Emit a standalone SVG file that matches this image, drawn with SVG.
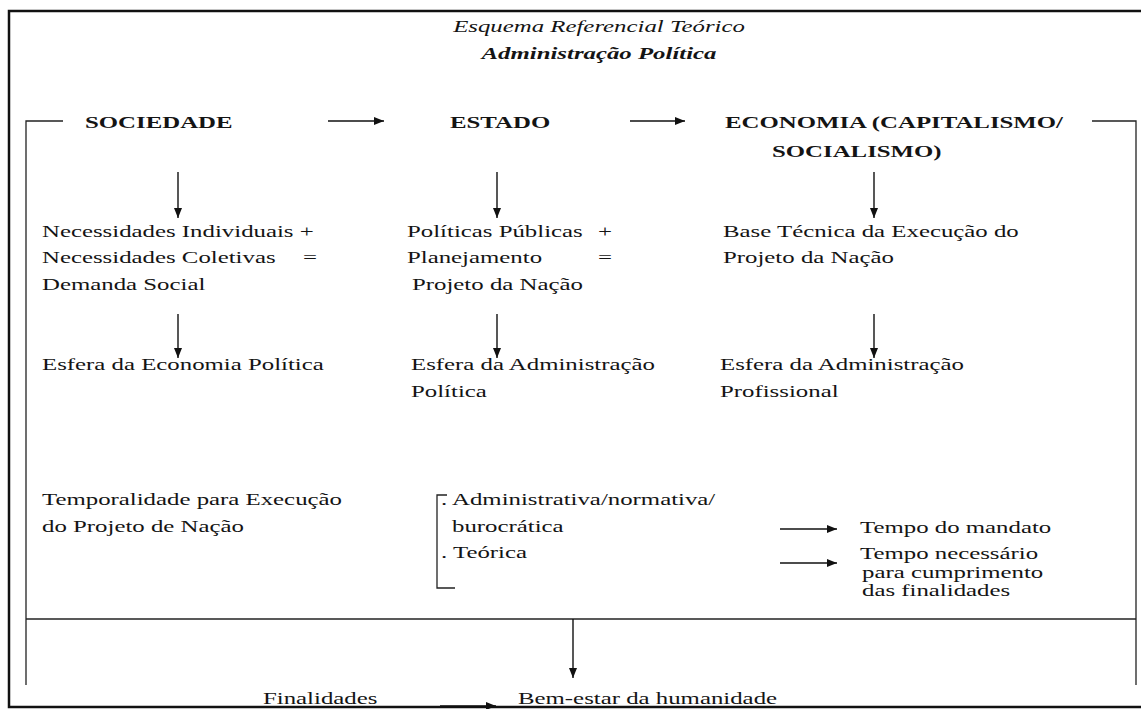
<svg xmlns="http://www.w3.org/2000/svg" width="1141" height="709" viewBox="0 0 1141 709">
<defs>
<style>
.t{font-family:"Liberation Serif","Times New Roman",serif;font-size:17px;fill:#141414}
.b{font-weight:bold}
.i{font-style:italic}
.m{text-anchor:middle}
.ln{fill:none;stroke:#222;stroke-width:1.3}
.fr{fill:none;stroke:#111;stroke-width:2.5}
.ar{fill:none;stroke:#111;stroke-width:1.4;marker-end:url(#ah)}
</style>
<marker id="ah" markerUnits="userSpaceOnUse" markerWidth="12" markerHeight="10" refX="10" refY="4" orient="auto">
<path d="M0,0 L10,4 L0,8 Z" fill="#111"/>
</marker>
</defs>
<rect width="1141" height="709" fill="#fff"/>

<g id="frame">
<path class="fr" d="M1145,11 H9 V707 H1145"/>
<path class="ln" d="M63,121 H26 V685"/>
<path class="ln" d="M1092,121 H1136 V685"/>
<path class="ln" d="M26,619 H1136"/>
<path class="ln" d="M447,495 H437 V588 H455"/>
</g>

<g id="title">
<text class="t i m" transform="translate(599 32) scale(1.46 1)">Esquema Referencial Teórico</text>
<text class="t b i m" transform="translate(599 59) scale(1.46 1)">Administração Política</text>
</g>

<g id="connectors">
<line class="ar" x1="328" y1="121" x2="384" y2="121"/>
<line class="ar" x1="630" y1="121" x2="685" y2="121"/>
<line class="ar" x1="178" y1="172" x2="178" y2="218"/>
<line class="ar" x1="497" y1="172" x2="497" y2="218"/>
<line class="ar" x1="874" y1="172" x2="874" y2="218"/>
<line class="ar" x1="178" y1="314" x2="178" y2="358"/>
<line class="ar" x1="497" y1="314" x2="497" y2="358"/>
<line class="ar" x1="874" y1="314" x2="874" y2="358"/>
<line class="ar" x1="780" y1="529" x2="837" y2="529"/>
<line class="ar" x1="780" y1="563" x2="837" y2="563"/>
<line class="ar" x1="573" y1="619" x2="573" y2="678"/>
<line class="ar" x1="440" y1="706" x2="496" y2="706"/>
</g>

<g id="sociedade">
<text class="t b" transform="translate(85 128) scale(1.46 1)">SOCIEDADE</text>
</g>
<g id="estado">
<text class="t b" transform="translate(450 128) scale(1.46 1)">ESTADO</text>
</g>
<g id="economia">
<text class="t b" transform="translate(725 128) scale(1.46 1)">ECONOMIA (CAPITALISMO/</text>
<text class="t b" transform="translate(772 157) scale(1.46 1)">SOCIALISMO)</text>
</g>

<g id="demanda-social">
<text class="t" transform="translate(42 237) scale(1.46 1)">Necessidades Individuais +</text>
<text class="t" transform="translate(42 263) scale(1.46 1)">Necessidades Coletivas</text>
<text class="t" transform="translate(303 263) scale(1.46 1)">=</text>
<text class="t" transform="translate(42 290) scale(1.46 1)">Demanda Social</text>
</g>
<g id="projeto-nacao">
<text class="t" transform="translate(407 237) scale(1.46 1)">Políticas Públicas</text>
<text class="t" transform="translate(598 237) scale(1.46 1)">+</text>
<text class="t" transform="translate(407 263) scale(1.46 1)">Planejamento</text>
<text class="t" transform="translate(598 263) scale(1.46 1)">=</text>
<text class="t" transform="translate(412 290) scale(1.46 1)">Projeto da Nação</text>
</g>
<g id="base-tecnica">
<text class="t" transform="translate(723 237) scale(1.46 1)">Base Técnica da Execução do</text>
<text class="t" transform="translate(723 263) scale(1.46 1)">Projeto da Nação</text>
</g>

<g id="esfera-economia">
<text class="t" transform="translate(42 370) scale(1.46 1)">Esfera da Economia Política</text>
</g>
<g id="esfera-adm-politica">
<text class="t" transform="translate(411 370) scale(1.46 1)">Esfera da Administração</text>
<text class="t" transform="translate(411 397) scale(1.46 1)">Política</text>
</g>
<g id="esfera-adm-profissional">
<text class="t" transform="translate(720 370) scale(1.46 1)">Esfera da Administração</text>
<text class="t" transform="translate(720 397) scale(1.46 1)">Profissional</text>
</g>

<g id="temporalidade">
<text class="t" transform="translate(42 505) scale(1.46 1)">Temporalidade para Execução</text>
<text class="t" transform="translate(42 532) scale(1.46 1)">do Projeto de Nação</text>
</g>
<g id="tipos">
<text class="t" transform="translate(441 505) scale(1.46 1)">. Administrativa/normativa/</text>
<text class="t" transform="translate(452 532) scale(1.46 1)">burocrática</text>
<text class="t" transform="translate(441 558) scale(1.46 1)">. Teórica</text>
</g>
<g id="tempo-mandato">
<text class="t" transform="translate(860 533) scale(1.46 1)">Tempo do mandato</text>
</g>
<g id="tempo-necessario">
<text class="t" transform="translate(860 559) scale(1.46 1)">Tempo necessário</text>
<text class="t" transform="translate(862 578) scale(1.46 1)">para cumprimento</text>
<text class="t" transform="translate(862 596) scale(1.46 1)">das finalidades</text>
</g>

<g id="finalidades">
<text class="t" transform="translate(263 704) scale(1.46 1)">Finalidades</text>
</g>
<g id="bem-estar">
<text class="t" transform="translate(518 704) scale(1.46 1)">Bem-estar da humanidade</text>
</g>
</svg>
